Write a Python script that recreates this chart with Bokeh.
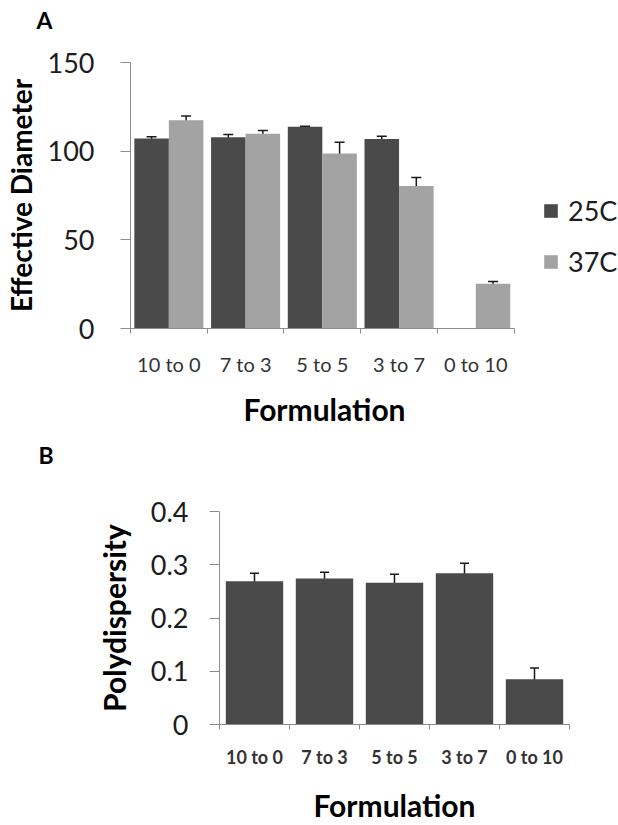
import math
from bokeh.plotting import figure
from bokeh.models import (ColumnDataSource, Range1d, FixedTicker, Whisker, TeeHead,
                          Legend, LegendItem, Label, Title)
from bokeh.layouts import column, row
from bokeh.transform import dodge
from bokeh.embed import file_html
from bokeh.resources import INLINE

# ---------------- data ----------------
formulations = ["10 to 0", "7 to 3", "5 to 5", "3 to 7", "0 to 10"]
series_names = ["25C", "37C"]
diameter_25c = [107.2, 107.8, 113.8, 106.8, float("nan")]
diameter_25c_err = [0.9, 1.6, 0.2, 1.6, float("nan")]
diameter_37c = [117.5, 109.8, 98.7, 80.4, 25.3]
diameter_37c_err = [2.4, 1.8, 6.3, 4.8, 1.2]
polydispersity = [0.269, 0.274, 0.266, 0.284, 0.085]
polydispersity_err = [0.015, 0.012, 0.016, 0.019, 0.021]
diameter_ticks = [0, 50, 100, 150]
pdi_ticks = [0, 0.1, 0.2, 0.3, 0.4]
x_title = "Formulation"

# ---------------- style ----------------
FONT = "Lato"
DARK = "#4a4a4a"
LIGHT = "#a3a3a3"
AXIS = "#8c8c8c"
TEXT = "#1c1c1c"
ERR = "#1a1a1a"

n = len(formulations)
centers = [i + 0.5 for i in range(n)]
label_map = {c: f for c, f in zip(centers, formulations)}


def series_source(vals, errs):
    xs, v, up, lo = [], [], [], []
    for c, val, e in zip(centers, vals, errs):
        if math.isnan(val):
            continue
        xs.append(c)
        v.append(val)
        up.append(val + e)
        lo.append(val - e)
    return ColumnDataSource(dict(x=xs, value=v, upper=up, lower=lo))


def style_axes(p, ytick_size, ytick_standoff, xtick_size, xtick_style, ylab_size, xlab_size,
               ylab_standoff, xlab_standoff, xtick_standoff, x_label):
    p.xgrid.visible = False
    p.ygrid.visible = False
    p.outline_line_color = None
    p.background_fill_color = "white"
    p.border_fill_color = "white"

    yax = p.yaxis[0]
    yax.axis_line_color = AXIS
    yax.major_tick_line_color = AXIS
    yax.major_tick_out = 10
    yax.major_tick_in = 0
    yax.minor_tick_line_color = None
    yax.major_label_text_font = FONT
    yax.major_label_text_font_size = ytick_size
    yax.major_label_text_color = TEXT
    yax.major_label_standoff = ytick_standoff
    yax.axis_label_text_font = FONT
    yax.axis_label_text_font_style = "bold"
    yax.axis_label_text_font_size = ylab_size
    yax.axis_label_text_color = "black"
    yax.axis_label_standoff = ylab_standoff

    xax = p.xaxis[0]
    xax.bounds = (0, n)
    xax.ticker = FixedTicker(ticks=centers, minor_ticks=list(range(n + 1)))
    xax.major_label_overrides = label_map
    xax.axis_line_color = AXIS
    xax.major_tick_line_color = None
    xax.major_tick_out = 5
    xax.major_tick_in = 0
    xax.minor_tick_line_color = AXIS
    xax.minor_tick_out = 5
    xax.minor_tick_in = 0
    xax.major_label_text_font = FONT
    xax.major_label_text_font_size = xtick_size
    xax.major_label_text_font_style = xtick_style
    xax.major_label_text_color = "#333333"
    xax.major_label_standoff = xtick_standoff
    if x_label is not None:
        xax.axis_label = x_label
        xax.axis_label_text_font = FONT
        xax.axis_label_text_font_style = "bold"
        xax.axis_label_text_font_size = xlab_size
        xax.axis_label_text_color = "black"
        xax.axis_label_standoff = xlab_standoff


def panel_letter(p, letter, x, y):
    p.add_layout(Label(x=x, y=y, x_units="screen", y_units="screen", text=letter,
                       text_font=FONT, text_font_style="bold", text_font_size="23px",
                       text_color="black", text_baseline="alphabetic"), "above")


# ---------------- panel A ----------------
# the axis occupies 386 px; the frame continues to the right edge to hold the legend
A_LEFT, A_AXIS_W, A_WIDTH = 127, 386, 618
a_x_end = n * (A_WIDTH - A_LEFT) / A_AXIS_W
pA = figure(width=A_WIDTH, height=440, output_backend="svg", toolbar_location=None,
            x_range=Range1d(0, a_x_end), y_range=Range1d(0, 150),
            min_border_left=A_LEFT, min_border_right=0, min_border_top=62, min_border_bottom=112)
pA.yaxis.ticker = FixedTicker(ticks=diameter_ticks)
pA.yaxis.axis_label = "Effective Diameter"
style_axes(pA, "27px", 26, "20px", "normal", "28px", "30px", 7, 12, 18, None)
panel_letter(pA, "A", -94, 43)
# x-axis title centred under the axis itself (not under the whole frame)
pA.add_layout(Title(text=x_title, align="left", offset=113, vertical_align="top", standoff=24,
                    text_font=FONT, text_font_style="bold", text_font_size="30px",
                    text_color="black"), "below")

src25 = series_source(diameter_25c, diameter_25c_err)
src37 = series_source(diameter_37c, diameter_37c_err)
bar_w = 0.45
r25 = pA.vbar(x=dodge("x", -bar_w / 2), top="value", width=bar_w, bottom=0, source=src25,
              fill_color=DARK, line_color=None)
r37 = pA.vbar(x=dodge("x", bar_w / 2), top="value", width=bar_w, bottom=0, source=src37,
              fill_color=LIGHT, line_color=None)
for src, off in ((src25, -bar_w / 2), (src37, bar_w / 2)):
    w = Whisker(source=src, base=dodge("x", off), upper="upper", lower="lower",
                line_color=ERR, line_width=1.5,
                upper_head=TeeHead(size=10, line_color=ERR, line_width=1.5),
                lower_head=TeeHead(size=10, line_color=ERR, line_width=1.5))
    pA.add_layout(w)

legend = Legend(items=[LegendItem(label=series_names[0], renderers=[r25]),
                       LegendItem(label=series_names[1], renderers=[r37])],
                location=(412, 50), orientation="vertical",
                glyph_width=17, glyph_height=17, label_height=30, spacing=18,
                label_standoff=9, padding=0, margin=0,
                border_line_color=None, background_fill_alpha=0,
                label_text_font=FONT, label_text_font_size="27px", label_text_color=TEXT)
pA.add_layout(legend, "center")

# ---------------- panel B ----------------
pB = figure(width=618, height=385, output_backend="svg", toolbar_location=None,
            x_range=Range1d(0, n), y_range=Range1d(0, 0.4),
            min_border_left=219, min_border_right=49, min_border_top=71, min_border_bottom=95)
pB.yaxis.ticker = FixedTicker(ticks=pdi_ticks)
pB.yaxis.major_label_overrides = {0: "0"}
pB.yaxis.axis_label = "Polydispersity"
style_axes(pB, "27px", 21, "18px", "bold", "30px", "30px", 16, 16, 16, x_title)
panel_letter(pB, "B", -181, 57)

srcB = series_source(polydispersity, polydispersity_err)
pB.vbar(x="x", top="value", width=0.82, bottom=0, source=srcB, fill_color=DARK, line_color=None)
pB.add_layout(Whisker(source=srcB, base="x", upper="upper", lower="lower",
                      line_color=ERR, line_width=1.5,
                      upper_head=TeeHead(size=9, line_color=ERR, line_width=1.5),
                      lower_head=TeeHead(size=9, line_color=ERR, line_width=1.5)))

layout = column(row(pA), row(pB), spacing=0)
open("out.html", "w").write(file_html(layout, INLINE))
